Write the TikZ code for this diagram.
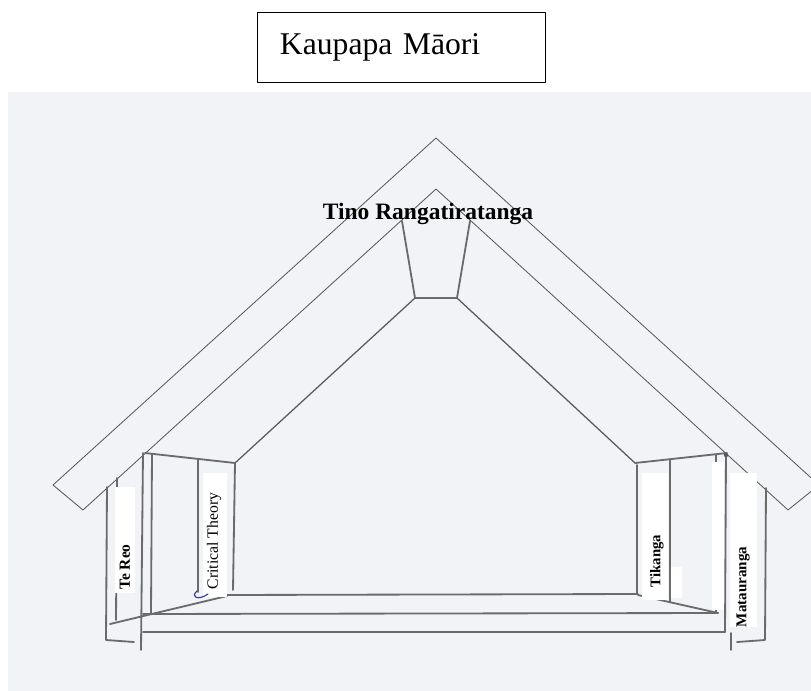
\documentclass[tikz,border=0pt]{standalone}
\usepackage{fontspec}
\setmainfont{Liberation Serif}
\usetikzlibrary{positioning}
\definecolor{scan_grey}{RGB}{241,243,247}
\definecolor{pencil}{RGB}{90,90,90}
\definecolor{biro_blue}{RGB}{55,55,150}
\tikzset{
	roof/.style={draw=pencil, line width=0.6pt},
	post/.style={draw=pencil!90, line width=1.3pt},
	patch/.style={fill=white, draw=none},
	pou/.style={font=\bfseries\fontsize{11}{11}\selectfont, rotate=90, inner sep=0pt},
}

\begin{document}
\begin{tikzpicture}[x=0.025cm, y=-0.025cm, line join=round, line cap=round]
	\useasboundingbox (0,0) rectangle (811,691);
	\fill[white] (0,0) rectangle (811,691);
	\fill[scan_grey] (8,92) rectangle (811,691);

	\node[draw, line width=0.7pt, inner xsep=0.55cm, inner ysep=0pt, text width=6.075cm,
		minimum height=1.75cm, align=left, font=\fontsize{22.5}{24}\selectfont]
		(title) at (401.5,47) {Kaupapa Māori};

	% roof band
	\coordinate (ridgeo) at (436,138);
	\coordinate (ridgei) at (436,189);
	\coordinate (eaveLo) at (53,485);
	\coordinate (eaveLi) at (83,510);
	\coordinate (eaveRo) at (819,485);
	\coordinate (eaveRi) at (788,510);
	\draw[roof] (eaveLi) -- (eaveLo) -- (ridgeo) -- (eaveRo) -- (eaveRi) -- (ridgei) -- cycle;

	% koruru and the two inner rafters
	\draw[post] (402,221) -- (415,298) -- (457,298) -- (470,221);
	\draw[roof, line width=0.9pt] (415,298) -- (235,463);
	\draw[roof, line width=0.9pt] (457,298) -- (635,463);

	% left porch
	\draw[post] (145,453) -- (235,463);
	\draw[post] (143,453) -- (141,650);
	\draw[post] (152,454) -- (151,613);
	\draw[post] (198,459) -- (198,592);
	\draw[post] (235,463) -- (233,590);
	\draw[post] (107,487) -- (106,640) -- (134,642);
	\draw[post] (117,478) -- (116,620);
	\draw[post] (227,596) -- (110,624);

	% floor
	\draw[post] (227,595) -- (638,594);
	\draw[post] (143,614) -- (718,613);
	\draw[post] (143,632) -- (725,632);
	\draw[post] (638,595) -- (718,613);

	% right porch
	\draw[post] (635,463) -- (727,453);
	\draw[post] (637,465) -- (637,594);
	\draw[post] (670,460) -- (670,602);
	\draw[post] (716,455) -- (716,612);
	\draw[post] (726,453) -- (725,632);
	\draw[post] (731,633) -- (731,650);
	\draw[post] (766,488) -- (765,640) -- (737,642);
	\fill[pencil] (726,455) circle (2.2);

	% paper strips behind the labels
	\fill[patch] (115,487) rectangle (135,593);
	\fill[patch] (203,473) rectangle (227,597);
	\fill[patch] (642,473) rectangle (668,600);
	\fill[patch] (671,567) rectangle (682,598);
	\fill[patch] (712,462) rectangle (724,610);
	\fill[patch] (730,473) rectangle (757,627);

	\draw[biro_blue, line width=0.8pt] (197,591) .. controls (190,597) and (198,601) .. (208,594);

	\node[font=\bfseries\fontsize{16.7}{18}\selectfont, anchor=base, inner sep=0pt]
		(tino) at (428,219) {Tino Rangatiratanga};
	\node[pou] (reo) at (125,567) {Te Reo};
	\node[pou, font=\fontsize{11.2}{12}\selectfont] (critical) at (214,541) {Critical Theory};
	\node[pou, font=\bfseries\fontsize{10.5}{11}\selectfont] (tikanga) at (657,561) {Tikanga};
	\node[pou, font=\bfseries\fontsize{10.7}{11}\selectfont] (matauranga) at (743,587) {Matauranga};
\end{tikzpicture}
\end{document}
